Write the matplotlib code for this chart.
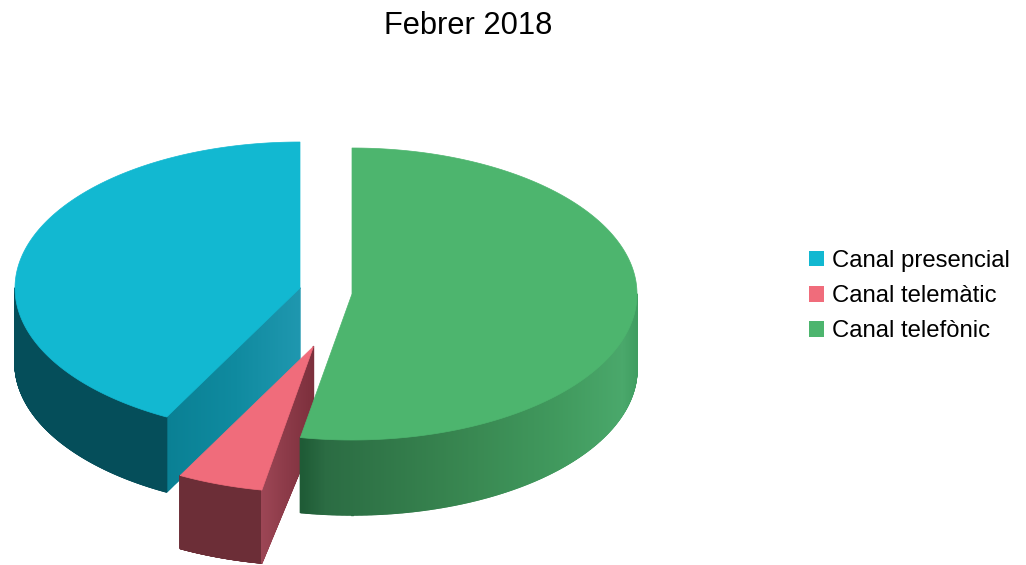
import numpy as np
import matplotlib
matplotlib.use("Agg")
import matplotlib.pyplot as plt
from matplotlib.collections import PolyCollection
from matplotlib.colors import to_rgb
from matplotlib.patches import Patch, Polygon

plt.rcParams['font.family'] = ['Liberation Sans', 'DejaVu Sans']

title = "Febrer 2018"
categories = ["Canal presencial", "Canal telemàtic", "Canal telefònic"]
values = [42.25, 4.85, 52.9]
top_colors = ["#12B8D1", "#F06C7B", "#4DB56E"]

RX, RY, DEPTH = 285, 146, 75
centers = {"Canal telefònic": (352, 294), "Canal telemàtic": (313.5, 346.5), "Canal presencial": (300, 288)}

# Angles run clockwise from twelve o'clock; order on the pie: telefònic, telemàtic, presencial
order = ["Canal telefònic", "Canal telemàtic", "Canal presencial"]
vals = dict(zip(categories, values))
cols = dict(zip(categories, top_colors))
total = sum(values)
spans = {}
a = 0.0
for n in order:
    spans[n] = (a, a + 360 * vals[n] / total)
    a = spans[n][1]


def rim(c, th):
    th = np.radians(th)
    return np.column_stack([c[0] + RX * np.sin(th), c[1] - RY * np.cos(th)])


def lerp(stops, t):
    ts = [s[0] for s in stops]
    rgb = np.array([to_rgb(s[1]) for s in stops])
    return [np.interp(t, ts, rgb[:, i]) for i in range(3)]


fig = plt.figure(figsize=(10.26, 5.65), dpi=100)
ax = fig.add_axes([0, 0, 1, 1])
ax.set_xlim(0, 1026)
ax.set_ylim(565, 0)
ax.axis("off")


def add_polys(polys, colors, z):
    ax.add_collection(PolyCollection(polys, facecolors=colors, edgecolors=colors, linewidths=1.0, zorder=z))


def outer_side(name, a0, a1, stops, z, depth=DEPTH):
    c = centers[name]
    th = np.linspace(a0, a1, 400)
    p = rim(c, th)
    polys, colors = [], []
    for i in range(len(p) - 1):
        q = [p[i], p[i + 1], p[i + 1] + [0, depth], p[i] + [0, depth]]
        polys.append(q)
        colors.append(lerp(stops, (p[i][0] + p[i + 1][0]) / 2))
    add_polys(polys, colors, z)


def cut_side(p_a, p_b, stops, z, n=120, depth_a=DEPTH, depth_b=DEPTH):
    """Cut face from inner point p_a to rim point p_b, shaded along its length."""
    p_a, p_b = np.array(p_a, float), np.array(p_b, float)
    polys, colors = [], []
    for i in range(n):
        t0, t1 = i / n, (i + 1) / n
        u0, u1 = p_a + (p_b - p_a) * t0, p_a + (p_b - p_a) * t1
        d0 = depth_a + (depth_b - depth_a) * t0
        d1 = depth_a + (depth_b - depth_a) * t1
        polys.append([u0, u1, u1 + [0, d1], u0 + [0, d0]])
        colors.append(lerp(stops, (t0 + t1) / 2))
    add_polys(polys, colors, z)


def top_face(name, z):
    c = centers[name]
    a0, a1 = spans[name]
    p = rim(c, np.linspace(a0, a1, 300))
    ax.add_patch(Polygon(np.vstack([[c], p]), closed=True, facecolor=cols[name], edgecolor=cols[name], linewidth=0.5, zorder=z))


# presencial
n = "Canal presencial"
a0, a1 = spans[n]
cut_side(centers[n], rim(centers[n], a0)[0],
         [(0, "#1F97AF"), (0.5, "#0F8A9F"), (1, "#0A8094")], 1)
outer_side(n, a0, 270, [(0, "#054E5A"), (1026, "#054E5A")], 1)
top_face(n, 2)

# telemàtic
n = "Canal telemàtic"
a0, a1 = spans[n]
outer_side(n, a0, a1, [(0, "#6C2E37"), (1026, "#6C2E37")], 3, depth=73)
cut_side(centers[n], rim(centers[n], a0)[0],
         [(0, "#7C2F3C"), (0.6, "#8E3C4A"), (1, "#9C4655")], 3, depth_a=92, depth_b=73)
top_face(n, 4)

# telefònic
n = "Canal telefònic"
a0, a1 = spans[n]
outer_side(n, 90, a1, [(300, "#1E5A35"), (325, "#2B6C43"), (450, "#37844F"),
                       (560, "#419A5E"), (622, "#4AA86B"), (638, "#3F9C60")], 5)
top_face(n, 6)

ax.text(468, 26, title, ha="center", va="center", fontsize=22.2, color="black")

handles = [Patch(facecolor=cols[c], edgecolor="none", label=c) for c in categories]
ax.legend(handles=handles, loc="upper left", bbox_to_anchor=(809, 250), bbox_transform=ax.transData,
          frameon=False, fontsize=17.2, borderpad=0, borderaxespad=0, handlelength=0.628,
          handleheight=0.628, handletextpad=0.33, labelspacing=0.55, labelcolor="black")

fig.savefig("out.png", dpi=100, facecolor="white")
